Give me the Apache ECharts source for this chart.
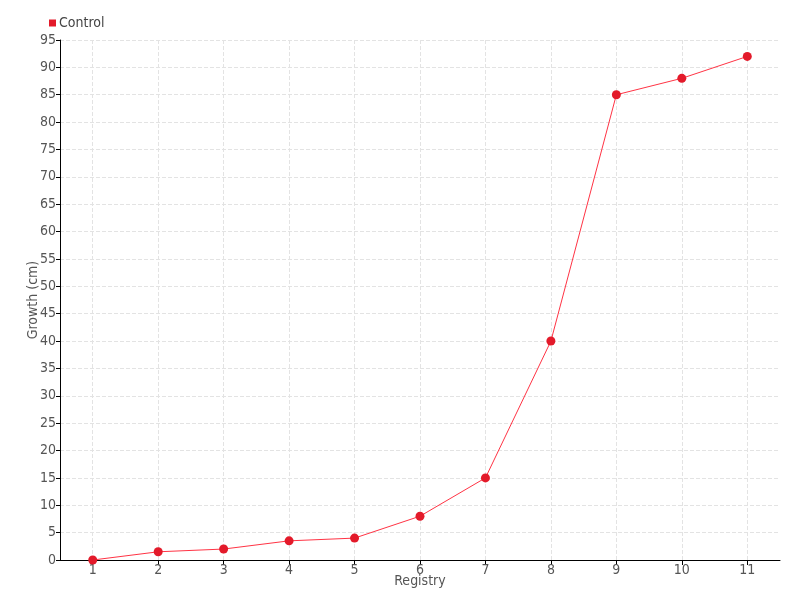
<!DOCTYPE html>
<html><head><meta charset="utf-8">
<script src="https://cdn.jsdelivr.net/npm/echarts@6/dist/echarts.min.js"></script>
<style>html,body{margin:0;padding:0;background:#fff}#c{width:800px;height:600px}</style>
</head><body><div id="c"></div>
<script>
const categories = [1,2,3,4,5,6,7,8,9,10,11];
const controlValues = [0, 1.5, 2, 3.5, 4, 8, 15, 40, 85, 88, 92];
const seriesName = 'Control';
const xName = 'Registry';
const yName = 'Growth (cm)';
const font = '"DejaVu Sans Condensed", "DejaVu Sans", sans-serif';
const chart = echarts.init(document.getElementById('c'));
chart.setOption({
  animation: false,
  textStyle: {fontFamily: font},
  legend: {left: 44, top: 11, itemWidth: 7, itemHeight: 7, itemGap: 4,
    icon: 'rect', data: [seriesName],
    textStyle: {fontFamily: font, fontSize: 14, color: '#444', padding: [0,0,0,-2]}},
  grid: {left: 60, right: 20, top: 40, bottom: 40, containLabel: false},
  xAxis: {type: 'value', min: 0.5, max: 11.5,
    name: xName, nameLocation: 'middle', nameGap: 14, nameMoveOverlap: false,
    nameTextStyle: {fontFamily: font, fontSize: 14, color: '#555'},
    axisLine: {lineStyle: {color: '#000', width: 1}},
    axisTick: {show: true, customValues: categories, length: 5, lineStyle: {color: '#000'}},
    axisLabel: {customValues: categories, fontFamily: font, fontSize: 14, color: '#555', margin: 3},
    splitLine: {show: true, customValues: categories, lineStyle: {type: 'dashed', color: '#e3e3e3'}}},
  yAxis: {type: 'value', min: 0, max: 95, interval: 5,
    name: yName, nameLocation: 'middle', nameGap: 20, nameMoveOverlap: false,
    nameTextStyle: {fontFamily: font, fontSize: 14, color: '#555'},
    axisLine: {show: true, lineStyle: {color: '#000', width: 1}},
    axisTick: {show: true, length: 4, lineStyle: {color: '#000'}},
    axisLabel: {fontFamily: font, fontSize: 14, color: '#555', margin: 4},
    splitLine: {show: true, lineStyle: {type: 'dashed', color: '#e3e3e3'}}},
  series: [{name: seriesName, type: 'line',
    data: categories.map((c, i) => [c, controlValues[i]]),
    symbol: 'circle', symbolSize: 9,
    itemStyle: {color: '#e31a2a'},
    lineStyle: {color: '#ff3344', width: 1}}]
});
</script></body></html>
